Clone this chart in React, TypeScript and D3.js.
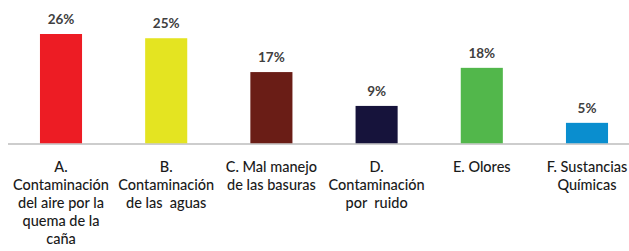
import { useEffect, useRef } from "react";
import * as d3 from "d3";

const categories = ["A", "B", "C", "D", "E", "F"];
const values = [26, 25, 17, 9, 18, 5];
const colors = ["#ED1C24", "#E4E421", "#6A1D16", "#16133B", "#52B74B", "#0A8ECF"];
const labelLines = [
  ["A.", "Contaminación", "del aire por la", "quema de la", "caña"],
  ["B.", "Contaminación", "de las  aguas"],
  ["C. Mal manejo", "de las basuras"],
  ["D.", "Contaminación", "por  ruido"],
  ["E. Olores"],
  ["F. Sustancias", "Químicas"],
];

export default function App() {
  const ref = useRef<SVGSVGElement>(null);
  useEffect(() => {
    if (!ref.current) return;
    const svg = d3.select(ref.current);
    svg.selectAll("*").remove();
    const w = 629;
    const font = "Lato, 'Open Sans', sans-serif";

    const x = d3.scaleBand<string>().domain(categories).range([8.4, 639.6]).paddingInner(0.6).paddingOuter(0.3);
    const y = d3.scaleLinear().domain([0, 26]).range([144, 34]);

    svg.append("line")
      .attr("x1", 8).attr("x2", w)
      .attr("y1", y(0)).attr("y2", y(0))
      .attr("stroke", "#bcbcbc").attr("stroke-width", 1.5);

    categories.forEach((c, i) => {
      const bx = x(c)!;
      const cx = bx + x.bandwidth() / 2;
      svg.append("rect")
        .attr("x", bx).attr("width", x.bandwidth())
        .attr("y", y(values[i]))
        .attr("height", y(0) - y(values[i]) - 0.75)
        .attr("fill", colors[i]);
      svg.append("text")
        .attr("x", cx).attr("y", y(values[i]) - 10)
        .attr("text-anchor", "middle")
        .attr("font-family", font).attr("font-weight", 700)
        .attr("font-size", 13.5).attr("fill", "#404040")
        .text(`${values[i]}%`);
      labelLines[i].forEach((line, j) => {
        svg.append("text")
          .attr("x", cx).attr("y", 172 + j * 18)
          .attr("text-anchor", "middle")
          .attr("font-family", font).attr("font-weight", 500)
          .attr("font-size", 14.5).attr("fill", "#1a1a1a")
          .style("white-space", "pre")
          .text(line);
      });
    });
  }, []);
  return (
    <svg
      ref={ref}
      width={629}
      height={251}
      style={{ position: "absolute", left: 0, top: 0, background: "#fff" }}
    />
  );
}
